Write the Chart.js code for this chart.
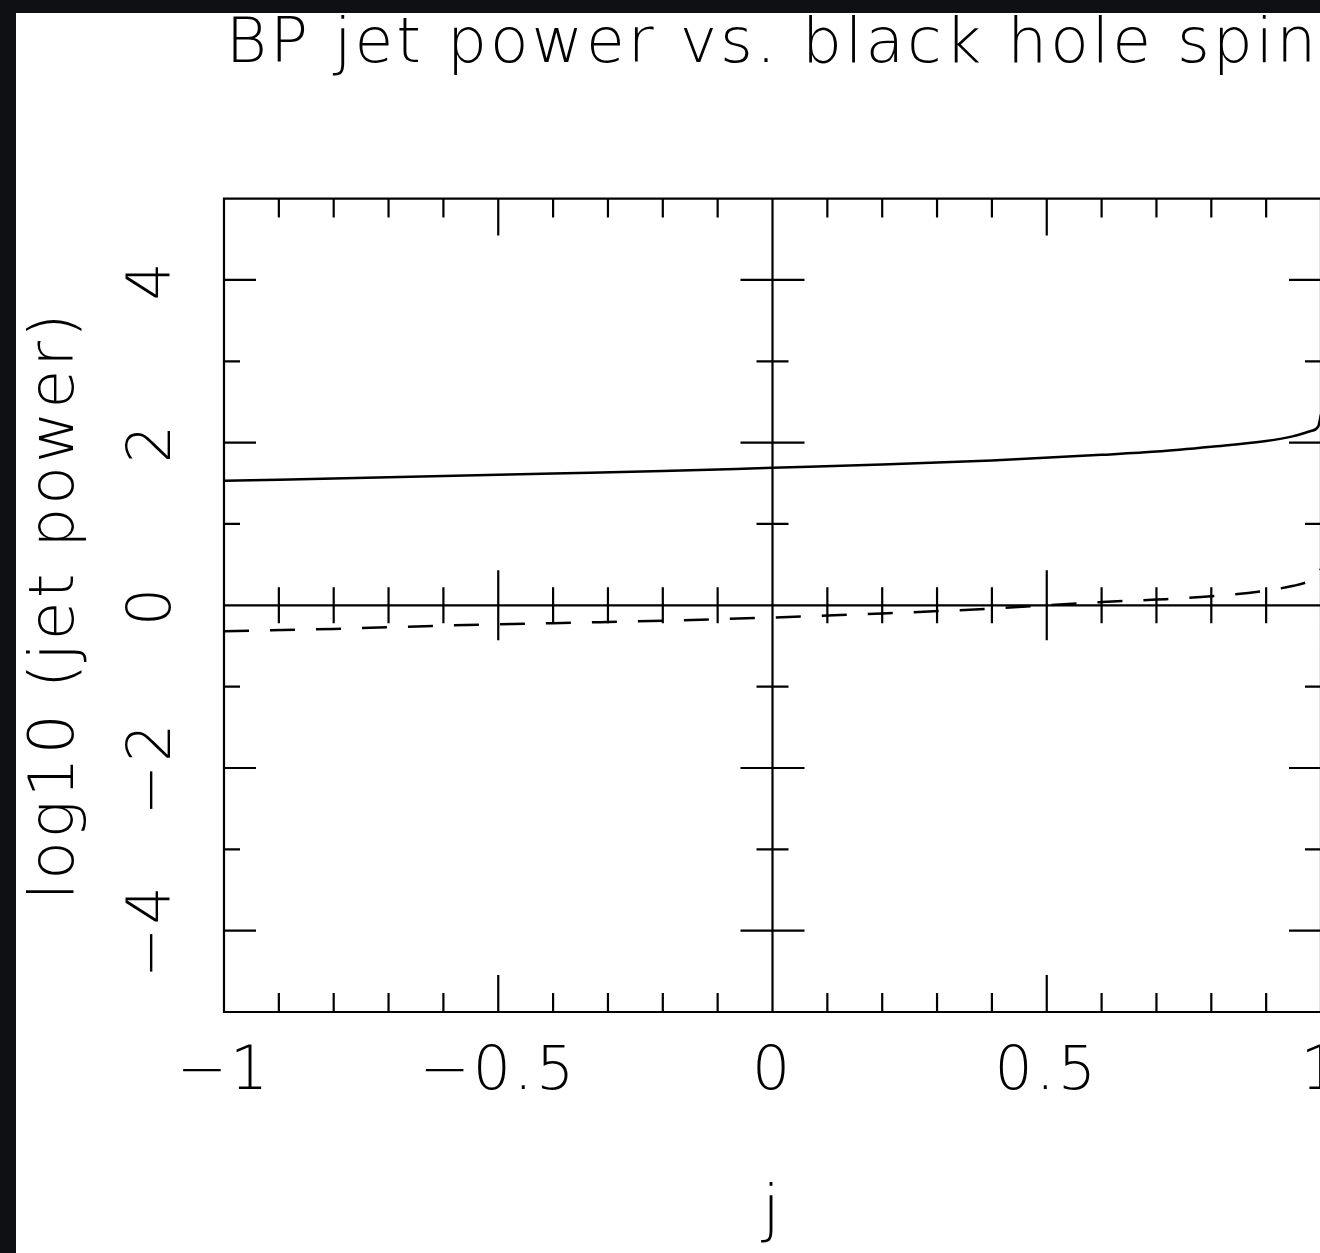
<!DOCTYPE html>
<html>
<head>
<meta charset="utf-8">
<title>BP jet power vs. black hole spin</title>
<script src="https://cdn.jsdelivr.net/npm/chart.js@4.4.1/dist/chart.umd.min.js"></script>
<style>
  html, body { margin: 0; padding: 0; background: #fff; overflow: hidden; }
  #wrap { position: relative; width: 1321px; height: 1253px; }
</style>
</head>
<body>
<div id="wrap"><canvas id="spinChart"></canvas></div>
<script>
// black hole spin j
const spin = [-1, -0.8, -0.6, -0.4, -0.2, 0, 0.2, 0.4, 0.6, 0.7, 0.8, 0.9, 0.95, 0.98, 0.995, 1];
// log10 of jet power, solid curve
const powerSolid = [1.53, 1.56, 1.59, 1.62, 1.65, 1.69, 1.73, 1.78, 1.85, 1.89, 1.95, 2.02, 2.08, 2.14, 2.2, 2.35];
// log10 of jet power, dashed curve
const powerDashed = [-0.32, -0.29, -0.25, -0.22, -0.19, -0.15, -0.10, -0.04, 0.04, 0.07, 0.11, 0.18, 0.24, 0.3, 0.36, 0.45];

const xTickValues = [-1, -0.5, 0, 0.5, 1];
const yTickValues = [-4, -2, 0, 2, 4];

const FONT = 'DejaVu Sans';

function fmt(v) {
    return v < 0 ? '\u2212' + Math.abs(v) : String(v);
}

function steps(min, max, step) {
    const out = [];
    const n = Math.round((max - min) / step);
    for (let i = 1; i < n; i++) out.push(+(min + i * step).toFixed(6));
    return out;
}

function isMajor(v, major) {
    const r = v / major;
    return Math.abs(r - Math.round(r)) < 1e-6;
}

// pgplot-style frame: box, inward ticks, axes through zero with crossing ticks
const frameAxes = {
    id: 'frameAxes',
    beforeUpdate(chart) {
        chart.ctx.letterSpacing = '3px';
    },
    beforeDraw(chart) {
        const ctx = chart.ctx;
        ctx.letterSpacing = '3px';
        ctx.save();
        ctx.fillStyle = '#0e1013';
        ctx.fillRect(0, 0, chart.width, chart.height);
        ctx.fillStyle = '#ffffff';
        ctx.fillRect(16, 13, chart.width - 16, chart.height - 13);
        ctx.restore();
    },
    beforeDatasetsDraw(chart) {
        const { ctx, chartArea: a, scales: { x, y } } = chart;
        const x0 = x.getPixelForValue(0);
        const y0 = y.getPixelForValue(0);
        ctx.save();
        ctx.strokeStyle = '#000';
        ctx.lineWidth = 2.2;
        ctx.beginPath();
        ctx.rect(a.left, a.top, a.right - a.left, a.bottom - a.top);
        ctx.moveTo(x0, a.top); ctx.lineTo(x0, a.bottom);
        ctx.moveTo(a.left, y0); ctx.lineTo(a.right, y0);

        steps(x.min, x.max, 0.1).forEach(v => {
            const px = x.getPixelForValue(v);
            const big = isMajor(v, 0.5);
            const len = big ? 37 : 19;
            const half = big ? 35 : 18;
            ctx.moveTo(px, a.top); ctx.lineTo(px, a.top + len);
            ctx.moveTo(px, a.bottom); ctx.lineTo(px, a.bottom - len);
            ctx.moveTo(px, y0 - half); ctx.lineTo(px, y0 + half);
        });
        steps(y.min, y.max, 1).forEach(v => {
            const py = y.getPixelForValue(v);
            const big = isMajor(v, 2);
            const len = big ? 32 : 16;
            ctx.moveTo(a.left, py); ctx.lineTo(a.left + len, py);
            ctx.moveTo(a.right, py); ctx.lineTo(a.right - len, py);
            ctx.moveTo(x0 - len, py); ctx.lineTo(x0 + len, py);
        });
        ctx.stroke();
        ctx.restore();
    }
};

const ctx = document.getElementById('spinChart').getContext('2d');
new Chart(ctx, {
    type: 'line',
    data: {
        datasets: [{
            label: 'solid',
            data: spin.map((j, i) => ({ x: j, y: powerSolid[i] })),
            borderColor: '#000',
            borderWidth: 2.5,
            pointRadius: 0,
            cubicInterpolationMode: 'monotone',
            fill: false
        }, {
            label: 'dashed',
            data: spin.map((j, i) => ({ x: j, y: powerDashed[i] })),
            borderColor: '#000',
            borderWidth: 2.5,
            borderDash: [25, 21],
            pointRadius: 0,
            cubicInterpolationMode: 'monotone',
            fill: false
        }]
    },
    options: {
        responsive: true,
        maintainAspectRatio: false,
        animation: false,
        layout: { padding: 0 },
        plugins: {
            legend: { display: false },
            tooltip: { enabled: false },
            title: {
                display: true,
                fullSize: false,
                text: 'BP jet power vs. black hole spin',
                color: '#000',
                font: { family: FONT, size: 63, weight: '200' },
                padding: { top: 8, bottom: 115 }
            }
        },
        scales: {
            x: {
                type: 'linear',
                min: -1,
                max: 1,
                afterBuildTicks: s => { s.ticks = xTickValues.map(v => ({ value: v })); },
                afterFit: s => { s.height = 241; s.paddingLeft = 0; s.paddingRight = 0; },
                grid: { display: false, drawTicks: false },
                border: { display: false },
                ticks: {
                    callback: fmt,
                    color: '#000',
                    font: { family: FONT, size: 60, weight: '200' },
                    padding: 25,
                    maxRotation: 0,
                    autoSkip: false
                },
                title: {
                    display: true,
                    text: 'j',
                    color: '#000',
                    font: { family: FONT, size: 63, weight: '200' },
                    padding: { top: 0, bottom: 3 }
                }
            },
            y: {
                type: 'linear',
                min: -5,
                max: 5,
                afterBuildTicks: s => { s.ticks = yTickValues.map(v => ({ value: v })); },
                afterFit: s => { s.width = 224; s.paddingTop = 0; s.paddingBottom = 0; },
                grid: { display: false, drawTicks: false },
                border: { display: false },
                ticks: {
                    callback: fmt,
                    color: '#000',
                    font: { family: FONT, size: 60, weight: '200' },
                    padding: 22,
                    minRotation: 90,
                    maxRotation: 90,
                    crossAlign: 'center',
                    autoSkip: false
                },
                title: {
                    display: true,
                    text: 'log10 (jet power)',
                    color: '#000',
                    font: { family: FONT, size: 63, weight: '200' },
                    padding: { top: 19, bottom: 0 }
                }
            }
        }
    },
    plugins: [frameAxes]
});
</script>
</body>
</html>
